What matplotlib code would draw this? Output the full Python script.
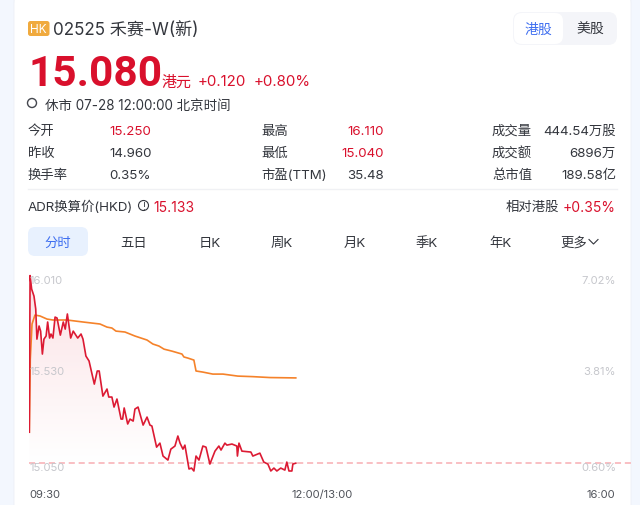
import matplotlib
matplotlib.use("Agg")
import matplotlib.pyplot as plt
import numpy as np
from matplotlib.patches import FancyBboxPatch, Circle
from matplotlib.path import Path
from matplotlib.patches import PathPatch

plt.rcParams['font.family'] = ['Inter', 'Noto Sans CJK SC', 'DejaVu Sans']

# minutes after the open, and price in HKD
price_time = [0, 0.4, 1.2, 2.4, 3.3, 3.9, 5, 5.8, 6.7, 7.5, 8.6, 9.4, 10.4, 11.1, 12.1, 13.2, 14.2,
              15.9, 17.4, 18.4, 19.5, 21.2, 22.5, 24.8, 26.5, 27.5, 29, 30.6, 33.3, 34.8, 35.8, 37.7,
              39.8, 40.7, 42.3, 43.4, 44.9, 47, 47.8, 48.6, 50.4, 51.6, 53.2, 54.1, 55.7, 58.3, 60.3,
              61.8, 62.8, 65.2, 66.9, 68.5, 71, 72.5, 74.6, 76.1, 77.2, 78.7, 79.7, 81.8, 83.1, 84.3,
              85.4, 86.9, 88.9, 90.5, 92.5, 95.1, 97.1, 98.2, 100.2, 101.2, 103.8, 106.3, 106.6, 107.4,
              108.9, 113.5, 114.5, 118.1, 120.1, 122.2, 123.7, 125.3, 126.8, 128.8, 130.9, 131.9, 133,
              134.5, 135, 136.5]
price = [15.25, 16.11, 16.036, 15.997, 15.926, 15.761, 15.833, 15.805, 15.679, 15.761, 15.778, 15.855,
         15.767, 15.789, 15.767, 15.882, 15.877, 15.783, 15.855, 15.816, 15.899, 15.767, 15.805, 15.767,
         15.789, 15.761, 15.668, 15.641, 15.514, 15.586, 15.586, 15.448, 15.487, 15.443, 15.443, 15.388,
         15.432, 15.322, 15.322, 15.383, 15.295, 15.322, 15.311, 15.377, 15.388, 15.289, 15.333, 15.289,
         15.284, 15.168, 15.19, 15.119, 15.097, 15.157, 15.174, 15.229, 15.19, 15.157, 15.179, 15.048,
         15.053, 15.037, 15.119, 15.097, 15.174, 15.168, 15.075, 15.146, 15.174, 15.152, 15.19, 15.179,
         15.185, 15.174, 15.119, 15.19, 15.146, 15.141, 15.119, 15.135, 15.086, 15.075, 15.037, 15.053,
         15.037, 15.053, 15.042, 15.086, 15.037, 15.037, 15.075, 15.08]

avg_time = [0, 0.5, 1.4, 2.9, 5.5, 9.1, 12.1, 19.3, 27.5, 36.2, 39.8, 42.3, 44.4, 49, 54.1, 60.3, 63.3,
            66.4, 69, 73.1, 78.2, 79.2, 81.2, 84.3, 85.4, 88.9, 94, 99.2, 106.8, 114.5, 123.2, 136.5]
avg_price = [15.25, 15.65, 15.844, 15.893, 15.888, 15.871, 15.866, 15.866, 15.855, 15.844, 15.827, 15.822,
             15.805, 15.80, 15.778, 15.756, 15.734, 15.723, 15.706, 15.695, 15.679, 15.663, 15.657, 15.646,
             15.586, 15.58, 15.569, 15.569, 15.558, 15.555, 15.55, 15.548]

last_price = 15.08
x_ticks = [0, 150, 300]
x_labels = ['09:30', '12:00/13:00', '16:00']
left_labels = ['16.010', '15.530', '15.050']
right_labels = ['7.02%', '3.81%', '0.60%']
label_rows = [281.5, 372, 468]

stat_names = [['今开', '昨收', '换手率'], ['最高', '最低', '市盈(TTM)'], ['成交量', '成交额', '总市值']]
stat_values = [['15.250', '14.960', '0.35%'], ['16.110', '15.040', '35.48'], ['444.54万股', '6896万', '189.58亿']]
stat_colors = [['red', 'dark', 'dark'], ['red', 'red', 'dark'], ['dark', 'dark', 'dark']]
tabs = ['分时', '五日', '日K', '周K', '月K', '季K', '年K', '更多']
tab_x = [58, 134, 210, 282, 355, 427, 500, 574]

RED = '#d9102c'
DARK = '#33363d'
GRAY = '#c6c7cc'

fig = plt.figure(figsize=(6.4, 5.06), dpi=100, facecolor='#f3f7fe')

# page layer, in pixels
ui = fig.add_axes([0, 0, 1, 1], zorder=1)
ui.set_xlim(0, 640)
ui.set_ylim(506, 0)
ui.axis('off')
ui.add_patch(FancyBboxPatch((14, -10), 617, 560, boxstyle='round,pad=0,rounding_size=14',
                            fc='white', ec='#eceff6', lw=0.6))

# header
ui.add_patch(FancyBboxPatch((28, 22), 21.5, 15, boxstyle='round,pad=0,rounding_size=2.5', fc='#f0aa3e', ec='none'))
ui.text(38.8, 29.5, 'HK', color='white', fontsize=8.5, ha='center', va='center')
ui.text(53, 30, '02525 禾赛-W(新)', color=DARK, fontsize=12.3, va='center')
ui.add_patch(FancyBboxPatch((513, 13), 104, 33, boxstyle='round,pad=0,rounding_size=9', fc='#f4f5f9', ec='none'))
ui.add_patch(FancyBboxPatch((514, 14), 49, 31, boxstyle='round,pad=0,rounding_size=8', fc='white', ec='none'))
ui.text(538, 30, '港股', color='#3f6ff0', fontsize=10, ha='center', va='center')
ui.text(590, 30, '美股', color=DARK, fontsize=10, ha='center', va='center')

ui.text(29, 86, '15.080', color=RED, fontsize=30.5, fontweight='bold', va='baseline',
        family=['Roboto', 'DejaVu Sans'])
ui.text(162, 87, '港元', color=RED, fontsize=10.8, va='baseline')
ui.text(198, 86, '+0.120', color=RED, fontsize=10.8, va='baseline')
ui.text(254, 86, '+0.80%', color=RED, fontsize=10.8, va='baseline')
ui.add_patch(Circle((32, 104), 4.5, fc='none', ec='#44474e', lw=1))
ui.text(45, 105.5, '休市 07-28 12:00:00 北京时间', color=DARK, fontsize=9.7, va='center')

# stats table
name_x = [28, 261, 492]
value_x = [109, 384, 616]
value_ha = ['left', 'right', 'right']
rows = [131.5, 153.5, 175.5]
for col in range(3):
    for row in range(3):
        ui.text(name_x[col], rows[row], stat_names[col][row], color=DARK, fontsize=9.6, va='center')
        c = RED if stat_colors[col][row] == 'red' else DARK
        ui.text(value_x[col], rows[row], stat_values[col][row], color=c, fontsize=9.6,
                ha=value_ha[col], va='center')
ui.plot([28, 617], [190, 190], color='#f0f1f4', lw=1)

ui.text(28, 207.5, 'ADR换算价(HKD)', color=DARK, fontsize=9.6, va='center')
ui.add_patch(Circle((143.5, 206.5), 5, fc='none', ec=DARK, lw=0.8))
ui.text(143.5, 206.5, '!', color=DARK, fontsize=7, ha='center', va='center')
ui.text(153, 207.5, '15.133', color=RED, fontsize=10, va='center')
ui.text(506, 207.5, '相对港股', color=DARK, fontsize=9.6, va='center')
ui.text(616, 207.5, '+0.35%', color=RED, fontsize=10, ha='right', va='center')

# period tabs
ui.add_patch(FancyBboxPatch((28, 228), 60, 29, boxstyle='round,pad=0,rounding_size=7', fc='#e8f1fe', ec='none'))
for i in range(len(tabs)):
    c = '#3f6ff0' if i == 0 else DARK
    ui.text(tab_x[i], 243.5, tabs[i], color=c, fontsize=9.6, ha='center', va='center')
ui.plot([589, 593.5, 598], [240.5, 245, 240.5], color=DARK, lw=0.8)

# chart, price scale: 16.11 sits at y=276.5 and 15.04 at y=472
ax = fig.add_axes([29.3 / 640, 1 - 478 / 506, (615 - 29.3) / 640, (478 - 270) / 506], zorder=2)
ax.patch.set_alpha(0)
ax.set_xlim(0, 300)
ax.set_ylim(15.004, 16.146)
for s in ax.spines.values():
    s.set_visible(False)
ax.set_yticks([])
ax.set_xticks(x_ticks)
ax.set_xticklabels(x_labels, color='#50535a', fontsize=8.1)
ax.tick_params(axis='x', length=0, pad=9)
for lab, ha in zip(ax.get_xticklabels(), ['left', 'center', 'right']):
    lab.set_ha(ha)

# soft fill under the price line
fill_x = np.array(price_time)
fill_y = np.array(price)
verts = [(fill_x[0], last_price)] + list(zip(fill_x, np.maximum(fill_y, last_price))) + [(fill_x[-1], last_price), (fill_x[0], last_price)]
grad = np.linspace(0, 1, 256).reshape(-1, 1)
rgba = np.ones((256, 1, 4))
rgba[:, :, 0] = 0.98
rgba[:, :, 1] = 0.82
rgba[:, :, 2] = 0.84
rgba[:, :, 3] = (1 - grad) * 0.65
im = ax.imshow(rgba, extent=[0, 140, last_price, max(price)], origin='upper', aspect='auto', zorder=1)
im.set_clip_path(PathPatch(Path(verts), transform=ax.transData))
ax.set_xlim(0, 300)
ax.set_ylim(15.004, 16.146)

ax.hlines(last_price, 0, 308, color='#f8aeb3', lw=1.1, linestyles=(0, (4, 2.5)), clip_on=False, zorder=2)
ax.plot(avg_time, avg_price, color='#f5822a', lw=1.2, zorder=3)
ax.plot(price_time, price, color='#dc1a33', lw=1.2, zorder=4)

for i in range(3):
    fig.text(30 / 640, 1 - label_rows[i] / 506, left_labels[i], color=GRAY, fontsize=8.1, va='center', zorder=5)
    fig.text(616 / 640, 1 - label_rows[i] / 506, right_labels[i], color=GRAY, fontsize=8.1, ha='right', va='center', zorder=5)

fig.savefig('out.png', dpi=100)
